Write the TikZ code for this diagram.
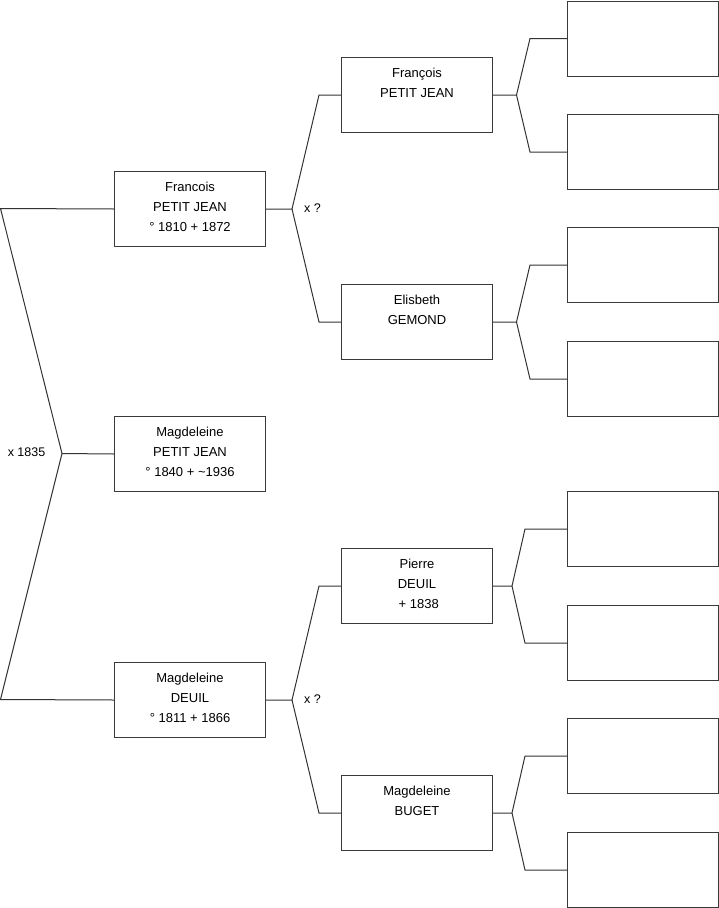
\documentclass[tikz,border=0pt]{standalone}
\usepackage{fontspec}
\setmainfont{Liberation Sans}
\usetikzlibrary{positioning,calc}
\definecolor{linegray}{HTML}{333333}
\definecolor{boxgray}{HTML}{3A3A3A}
\tikzset{
  person/.style={draw=boxgray,line width=1pt,minimum width=151pt,
                 minimum height=75pt,inner sep=0pt,anchor=north west},
  who/.style={align=center,font=\fontsize{13}{20}\selectfont,inner sep=0pt},
  link/.style={draw=linegray,line width=1pt},
  tag/.style={font=\fontsize{12.5}{15}\selectfont,inner sep=0pt},
}

\begin{document}
\begin{tikzpicture}[x=1pt,y=-1pt]
  \useasboundingbox (0,0) rectangle (719,908);

  % first generation
  \node[person] (francois) at (114,171) {};
  \node[who,below=10.5pt of francois.north] (francois-name)
       {Francois\\PETIT JEAN\\° 1810 + 1872};
  \node[person] (magdpj) at (114,416) {};
  \node[who,below=10.5pt of magdpj.north] (magdpj-name)
       {Magdeleine\\PETIT JEAN\\° 1840 + \textasciitilde1936};
  \node[person] (magdeuil) at (114,662) {};
  \node[who,below=10.5pt of magdeuil.north] (magdeuil-name)
       {Magdeleine\\DEUIL\\° 1811 + 1866};

  % second generation
  \node[person] (francoisp) at (341,57) {};
  \node[who,below=10.5pt of francoisp.north] (francoisp-name)
       {François\\PETIT JEAN};
  \node[person] (elisbeth) at (341,284) {};
  \node[who,below=10.5pt of elisbeth.north] (elisbeth-name)
       {Elisbeth\\GEMOND};
  \node[person] (pierre) at (341,548) {};
  \node[who,below=10.5pt of pierre.north] (pierre-name)
       {Pierre\\DEUIL\\\ + 1838};
  \node[person] (buget) at (341,775) {};
  \node[who,below=10.5pt of buget.north] (buget-name)
       {Magdeleine\\BUGET};

  % third generation, still unknown
  \node[person] (fp-father) at (567,0.5) {};
  \node[person] (fp-mother) at (567,114) {};
  \node[person] (el-father) at (567,227) {};
  \node[person] (el-mother) at (567,341) {};
  \node[person] (pi-father) at (567,491) {};
  \node[person] (pi-mother) at (567,605) {};
  \node[person] (bu-father) at (567,718) {};
  \node[person] (bu-mother) at (567,832) {};

  % marriage labels
  \node[tag,anchor=base east] (x1835) at (45.5,456.5) {x 1835};
  \node[tag,anchor=base west] (x-top-tag) at (304,212.5) {x ?};
  \node[tag,anchor=base west] (x-bot-tag) at (304,703) {x ?};

  % connectors
  \coordinate (m1835) at (62,453.5);
  \coordinate (pj-end) at (0.5,208.5);
  \coordinate (de-end) at (0.5,699.5);
  \draw[link] (francois.west) -- (pj-end) -- (m1835) -- (de-end)
              -- (magdeuil.west);
  \draw[link] (m1835) -- (magdpj.west);

  \coordinate (x-top) at ($(francois.east)+(26,0)$);
  \draw[link] (francois.east) -- (x-top)
              -- ($(francoisp.west)+(-22,0)$) -- (francoisp.west);
  \draw[link] (x-top) -- ($(elisbeth.west)+(-22,0)$) -- (elisbeth.west);

  \coordinate (x-bot) at ($(magdeuil.east)+(26,0)$);
  \draw[link] (magdeuil.east) -- (x-bot)
              -- ($(pierre.west)+(-22,0)$) -- (pierre.west);
  \draw[link] (x-bot) -- ($(buget.west)+(-22,0)$) -- (buget.west);

  \coordinate (fp-fork) at ($(francoisp.east)+(23.5,0)$);
  \draw[link] (francoisp.east) -- (fp-fork)
              -- ($(fp-father.west)+(-37,0)$) -- (fp-father.west);
  \draw[link] (fp-fork) -- ($(fp-mother.west)+(-37,0)$) -- (fp-mother.west);

  \coordinate (el-fork) at ($(elisbeth.east)+(23.5,0)$);
  \draw[link] (elisbeth.east) -- (el-fork)
              -- ($(el-father.west)+(-37,0)$) -- (el-father.west);
  \draw[link] (el-fork) -- ($(el-mother.west)+(-37,0)$) -- (el-mother.west);

  \coordinate (pi-fork) at ($(pierre.east)+(19,0)$);
  \draw[link] (pierre.east) -- (pi-fork)
              -- ($(pi-father.west)+(-42,0)$) -- (pi-father.west);
  \draw[link] (pi-fork) -- ($(pi-mother.west)+(-42,0)$) -- (pi-mother.west);

  \coordinate (bu-fork) at ($(buget.east)+(19,0)$);
  \draw[link] (buget.east) -- (bu-fork)
              -- ($(bu-father.west)+(-42,0)$) -- (bu-father.west);
  \draw[link] (bu-fork) -- ($(bu-mother.west)+(-42,0)$) -- (bu-mother.west);
\end{tikzpicture}
\end{document}
